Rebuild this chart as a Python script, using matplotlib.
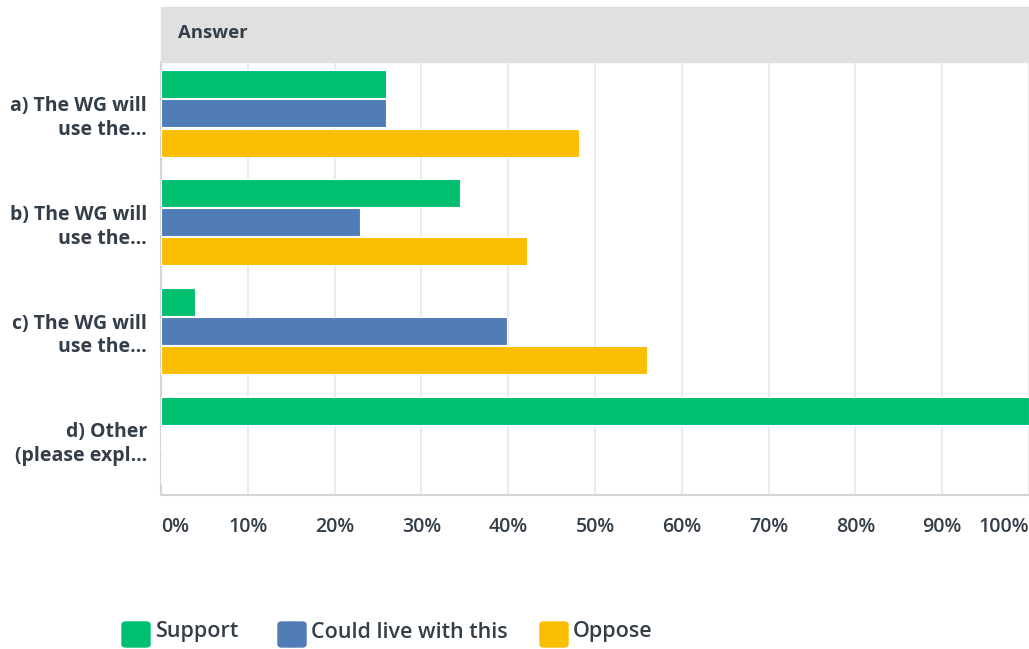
import numpy as np
import matplotlib
matplotlib.use("Agg")
import matplotlib.pyplot as plt
from matplotlib.patches import Rectangle, FancyBboxPatch

# data (percent of respondents)
preguntas = ["a) The WG will\nuse the…", "b) The WG will\nuse the…",
             "c) The WG will\nuse the…", "d) Other\n(please expl…"]
series = ["Support", "Could live with this", "Oppose"]
support = [25.9, 34.5, 3.9, 100.0]
could_live = [25.9, 22.9, 39.9, 0.0]
oppose = [48.1, 42.2, 56.0, 0.0]
ticks = [0, 10, 20, 30, 40, 50, 60, 70, 80, 90, 100]
colores = ["#00bf6f", "#507cb6", "#f9be00"]
texto = "#333e48"
fuente = "Open Sans"

W, H = 1029, 649
fig = plt.figure(figsize=(W / 100, H / 100), dpi=100)
ax = fig.add_axes([161 / W, 1 - 495 / H, 1 - 161 / W, (495 - 62) / H])

y = np.arange(len(preguntas))
alto = 0.257
paso = 0.267
for k, (vals, c) in enumerate(zip([support, could_live, oppose], colores)):
    ax.barh(y + (k - 1) * paso, vals, height=alto, color=c,
            edgecolor="white", linewidth=0.8, zorder=3)

ax.set_xlim(0, 100)
ax.set_ylim(3.506, -0.473)
ax.set_xticks(ticks)
ax.set_xticklabels([f"{t}%" for t in ticks], fontsize=14, color=texto,
                   fontweight="semibold", family=fuente)
lbls = ax.get_xticklabels()
lbls[0].set_ha("left")
lbls[-1].set_ha("right")
ax.tick_params(axis="x", length=0, pad=16)
ax.set_yticks(y)
ax.set_yticklabels(preguntas, fontsize=14, color=texto, fontweight="bold",
                   family=fuente, linespacing=1.25)
ax.tick_params(axis="y", length=0, pad=10)
ax.grid(axis="x", color="#ebebeb", linewidth=1.5, zorder=0)
for s in ["top", "right"]:
    ax.spines[s].set_visible(False)
ax.spines["left"].set_color("#d5d5d5")
ax.spines["left"].set_linewidth(1.5)
ax.spines["bottom"].set_color("#d5d5d5")
ax.spines["bottom"].set_linewidth(1.5)

# header band
fig.patches.append(Rectangle((161 / W, 1 - 62 / H), 1 - 161 / W, 55 / H,
                             transform=fig.transFigure, color="#e0e0e0", zorder=0))
fig.text(178 / W, 1 - 33 / H, "Answer", fontsize=13.3, fontweight="bold",
         color=texto, family=fuente, va="center", ha="left")

# legend
leg_x = [122, 278, 540]
txt_x = [156, 311, 573]
for lx, tx, c, s in zip(leg_x, txt_x, colores, series):
    fig.patches.append(FancyBboxPatch((lx / W, 1 - 647 / H), 28 / W, 25 / H,
                                      boxstyle="round,pad=0,rounding_size=0.004",
                                      transform=fig.transFigure, color=c))
    fig.text(tx / W, 1 - 632 / H, s, fontsize=15.5, fontweight="semibold",
             color=texto, family=fuente, va="center", ha="left")

fig.savefig("out.png", dpi=100)
